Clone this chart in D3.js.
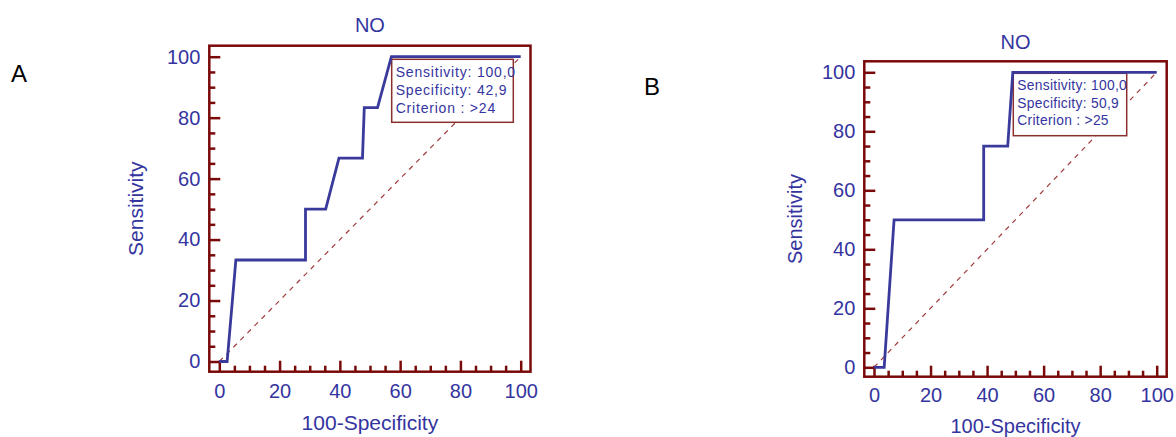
<!DOCTYPE html>
<meta charset="utf-8">
<html>
<head>
    <style>
        body { margin: 0; background: #fff; }
        svg { display: block; font-family: "Liberation Sans", Arial, sans-serif; }
        .tick text { fill: #3434a0; }
        .tick line { stroke: #7a0a0a; stroke-width: 2.5; }
    </style>
    <script src="https://d3js.org/d3.v7.min.js"></script>
</head>
<body>
  <svg width="1176" height="437"></svg>
  <script>

      // ROC points (x = 100-Specificity, y = Sensitivity)
      var rocA_fpr  = [0, 2.6, 5.5, 28.6, 28.6, 35.3, 39.7, 47.5, 48.1, 52.5, 57.1, 100];
      var rocA_sens = [0, 0, 33.3, 33.3, 50, 50, 66.7, 66.7, 83.3, 83.3, 100, 100];

      var rocB_fpr  = [0, 3.6, 7.1, 38.8, 38.8, 47.3, 49.1, 100];
      var rocB_sens = [0, 0, 50, 50, 75, 75, 100, 100];

      var majorTicks = [0, 20, 40, 60, 80, 100];
      var minorTicks = [5, 10, 15, 25, 30, 35, 45, 50, 55, 65, 70, 75, 85, 90, 95];

      var legendA = ["Sensitivity: 100,0", "Specificity: 42,9", "Criterion : >24"];
      var legendB = ["Sensitivity: 100,0", "Specificity: 50,9", "Criterion : >25"];

      var svg = d3.select("svg");
      var blue = "#3434a0", frameCol = "#7a0a0a";

      function drawPanel(p) {
          var x = d3.scaleLinear().domain([0, 100]).range(p.xr),
              y = d3.scaleLinear().domain([0, 100]).range(p.yr);

          var g = svg.append("g");

          // panel letter
          g.append("text")
           .attr("x", p.letterX).attr("y", p.letterY)
           .attr("font-size", "24px").attr("fill", "#000")
           .text(p.letter);

          // title
          g.append("text")
           .attr("x", (p.f[0] + p.f[2]) / 2).attr("y", p.titleY)
           .attr("text-anchor", "middle").attr("font-size", "20px").attr("fill", blue)
           .text("NO");

          // axes, ticks pointing inward
          g.append("g")
           .attr("transform", "translate(" + p.f[0] + ",0)")
           .call(d3.axisLeft(y).tickValues(majorTicks).tickSizeInner(-11).tickSizeOuter(0).tickPadding(9))
           .call(function(a) { a.select(".domain").remove(); })
           .selectAll("text").attr("font-size", p.tickFont + "px").attr("font-family", null);

          g.append("g")
           .attr("transform", "translate(" + p.f[0] + ",0)")
           .call(d3.axisLeft(y).tickValues(minorTicks).tickSizeInner(-6).tickSizeOuter(0).tickFormat(""))
           .call(function(a) { a.select(".domain").remove(); });

          g.append("g")
           .attr("transform", "translate(0," + p.f[3] + ")")
           .call(d3.axisBottom(x).tickValues(majorTicks).tickSizeInner(-11).tickSizeOuter(0).tickPadding(p.xPad))
           .call(function(a) { a.select(".domain").remove(); })
           .selectAll("text").attr("font-size", p.tickFont + "px").attr("font-family", null);

          g.append("g")
           .attr("transform", "translate(0," + p.f[3] + ")")
           .call(d3.axisBottom(x).tickValues(minorTicks).tickSizeInner(-6).tickSizeOuter(0).tickFormat(""))
           .call(function(a) { a.select(".domain").remove(); });

          // frame
          g.append("rect")
           .attr("x", p.f[0]).attr("y", p.f[1])
           .attr("width", p.f[2] - p.f[0]).attr("height", p.f[3] - p.f[1])
           .attr("fill", "none").attr("stroke", frameCol).attr("stroke-width", 2.5);

          // axis titles
          g.append("text")
           .attr("transform", "translate(" + p.ylabX + "," + (p.f[1] + p.f[3]) / 2 + ") rotate(-90)")
           .attr("text-anchor", "middle").attr("font-size", p.labFont + "px").attr("fill", blue)
           .text("Sensitivity");

          g.append("text")
           .attr("x", (p.f[0] + p.f[2]) / 2).attr("y", p.xlabY)
           .attr("text-anchor", "middle").attr("font-size", p.labFont + "px").attr("fill", blue)
           .text("100-Specificity");

          // reference diagonal
          g.append("line")
           .attr("x1", x(0)).attr("y1", y(0)).attr("x2", x(100)).attr("y2", y(100))
           .attr("stroke", "#a03c3c").attr("stroke-width", 1.2)
           .attr("stroke-dasharray", "5,5");

          // legend box
          g.append("rect")
           .attr("x", p.box[0]).attr("y", p.box[1])
           .attr("width", p.box[2] - p.box[0]).attr("height", p.box[3] - p.box[1])
           .attr("fill", "#fff").attr("stroke", "#8b2e2e").attr("stroke-width", 1.5);

          g.selectAll(".leg")
           .data(p.legend)
           .enter().append("text")
           .attr("x", p.box[0] + 4)
           .attr("y", function(d, i) { return p.box[1] + p.legY0 + i * p.legDy; })
           .attr("font-size", p.legFont + "px")
           .attr("letter-spacing", p.legSpace + "px")
           .attr("fill", blue)
           .text(function(d) { return d; });

          // ROC curve
          var line = d3.line()
              .x(function(d) { return x(d[0]); })
              .y(function(d) { return y(d[1]); });

          g.append("path")
           .datum(d3.zip(p.fpr, p.sens))
           .attr("d", line)
           .attr("fill", "none")
           .attr("stroke", "#3a3a9c")
           .attr("stroke-width", 2.8)
           .attr("stroke-linejoin", "miter");
      }

      drawPanel({
          letter: "A", letterX: 11, letterY: 81.5,
          xr: [219.3, 520.7], yr: [361.5, 56.7],
          f: [209.3, 45.7, 530.5, 371.7],
          titleY: 31.7, ylabX: 143, xlabY: 430,
          tickFont: 20, labFont: 21, xPad: 12,
          box: [391.7, 59.3, 513.3, 122.3], legY0: 17.6, legDy: 17.8,
          legFont: 14, legSpace: 0.8, legend: legendA,
          fpr: rocA_fpr, sens: rocA_sens
      });

      drawPanel({
          letter: "B", letterX: 644, letterY: 95,
          xr: [874, 1156.7], yr: [367.3, 72.3],
          f: [864.3, 61.3, 1166.7, 376.7],
          titleY: 49.3, ylabX: 801.5, xlabY: 433,
          tickFont: 20, labFont: 20, xPad: 11,
          box: [1013.3, 73.3, 1126.7, 135.7], legY0: 16.9, legDy: 17.5,
          legFont: 13.8, legSpace: 0.3, legend: legendB,
          fpr: rocB_fpr, sens: rocB_sens
      });

  </script>
</body>
</html>
